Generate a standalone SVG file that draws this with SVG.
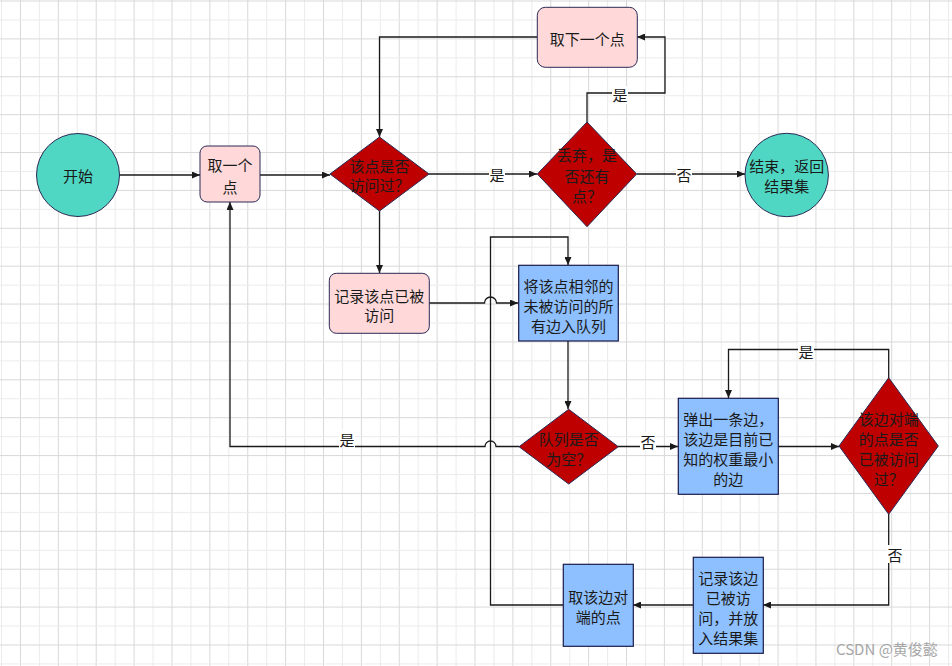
<svg xmlns="http://www.w3.org/2000/svg" width="952" height="666" viewBox="0 0 952 666">
<defs>
<pattern id="grid" patternUnits="userSpaceOnUse" x="1" y="0.5" width="37.88" height="37.88">
<rect x="0" y="0" width="37.88" height="37.88" fill="#ffffff"/>
<rect x="18.94" y="0" width="1" height="37.88" fill="#d9d9d9"/>
<rect x="0" y="0" width="1" height="37.88" fill="#ececec"/>
<rect x="0" y="18.94" width="37.88" height="1" fill="#ececec"/>
<rect x="0" y="0" width="37.88" height="1" fill="#d9d9d9"/>
</pattern>
<marker id="arr" viewBox="0 0 8 7" refX="8" refY="3.5" markerWidth="8" markerHeight="7" markerUnits="userSpaceOnUse" orient="auto">
<path d="M0,0 L8,3.5 L0,7 z" fill="#1a1a1a"/>
</marker>
</defs>
<style>
.t{font-family:"Noto Sans CJK SC","Noto Sans",sans-serif;font-size:15px;fill:#1a1a1a;text-anchor:middle;dominant-baseline:central}
.lbl{font-family:"Noto Sans CJK SC","Noto Sans",sans-serif;font-size:15px;fill:#1a1a1a;text-anchor:middle;dominant-baseline:central}
.c{fill:none;stroke:#1a1a1a;stroke-width:1.3}
.a{marker-end:url(#arr)}
.teal{fill:#4fd7c3;stroke:#2a2a55;stroke-width:1}
.pink{fill:#ffd9d9;stroke:#2a2a55;stroke-width:1}
.red{fill:#bf0000;stroke:#2a2a55;stroke-width:1}
.blue{fill:#8ec0ff;stroke:#1a1a4a;stroke-width:1.2}
.lb{fill:#ffffff}
</style>
<rect width="952" height="666" fill="url(#grid)"/>

<g id="connectors">
<path class="c a" d="M119,175 H200"/>
<path class="c a" d="M260,175 H330"/>
<path class="c a" d="M429,174 H537"/>
<path class="c a" d="M637,174 H745"/>
<path class="c a" d="M587,122 V93 H665 V37 H637"/>
<path class="c a" d="M537,37 H379.5 V137"/>
<path class="c a" d="M379.5,211 V273"/>
<path class="c a" d="M429,303 H484.5 A6,6 0 0 1 496.5,303 H518"/>
<path class="c a" d="M563,605 H490.5 V237 H568 V265"/>
<path class="c a" d="M568,341 V409"/>
<path class="c a" d="M519,446.5 H496 A5.5,5.5 0 0 0 485,446.5 H230 V202"/>
<path class="c a" d="M618,446.5 H678"/>
<path class="c a" d="M778,446.5 H839"/>
<path class="c a" d="M888.7,378 V349.5 H728.5 V398"/>
<path class="c a" d="M888.7,514 V605 H763"/>
<path class="c a" d="M693,605 H633"/>
<rect class="lb" x="489" y="165" width="16" height="18"/>
<text class="lbl" x="497" y="174">是</text>
<rect class="lb" x="676" y="165" width="16" height="18"/>
<text class="lbl" x="684" y="174">否</text>
<rect class="lb" x="612" y="86" width="16" height="18"/>
<text class="lbl" x="620" y="94">是</text>
<rect class="lb" x="339" y="430" width="16" height="18"/>
<text class="lbl" x="347" y="439">是</text>
<rect class="lb" x="640" y="432" width="16" height="18"/>
<text class="lbl" x="648" y="441">否</text>
<rect class="lb" x="798" y="342" width="16" height="18"/>
<text class="lbl" x="806" y="351">是</text>
<rect class="lb" x="887" y="545" width="16" height="18"/>
<text class="lbl" x="895" y="554">否</text>
</g>

<g id="start">
<circle class="teal" cx="78" cy="175" r="41.5"/>
<text class="t" x="78" y="175">开始</text>
</g>
<g id="take-point">
<rect class="pink" x="200" y="146" width="60" height="56" rx="7"/>
<text class="t" x="230" y="164.5">取一个</text>
<text class="t" x="230" y="186">点</text>
</g>
<g id="visited-check">
<polygon class="red" points="379.5,137 429,174 379.5,211 330,174"/>
<text class="t" x="379.5" y="165.5">该点是否</text>
<text class="t" x="379.5" y="184.5">访问过？</text>
</g>
<g id="discard-check">
<polygon class="red" points="587,122 636.7,174 587,226.7 537.3,174"/>
<text class="t" x="587" y="154">丢弃，是</text>
<text class="t" x="587" y="175">否还有</text>
<text class="t" x="587" y="195">点？</text>
</g>
<g id="next-point">
<rect class="pink" x="537.3" y="7.3" width="100" height="60" rx="8"/>
<text class="t" x="587.3" y="38">取下一个点</text>
</g>
<g id="end">
<circle class="teal" cx="786.7" cy="175" r="41.7"/>
<text class="t" x="786.7" y="165.5">结束，返回</text>
<text class="t" x="786.7" y="185">结果集</text>
</g>
<g id="mark-visited">
<rect class="pink" x="329.3" y="273.3" width="100" height="60" rx="7"/>
<text class="t" x="379.3" y="295.5">记录该点已被</text>
<text class="t" x="379.3" y="314.5">访问</text>
</g>
<g id="enqueue">
<rect class="blue" x="518.7" y="265.3" width="99.6" height="75.7"/>
<text class="t" x="568.5" y="285">将该点相邻的</text>
<text class="t" x="568.5" y="305">未被访问的所</text>
<text class="t" x="568.5" y="325">有边入队列</text>
</g>
<g id="queue-empty">
<polygon class="red" points="568.7,409.3 618.3,446.7 568.7,484 519,446.7"/>
<text class="t" x="568.7" y="438.5">队列是否</text>
<text class="t" x="568.7" y="458.5">为空？</text>
</g>
<g id="pop-edge">
<rect class="blue" x="678.3" y="398.3" width="100" height="96"/>
<text class="t" x="728.3" y="418.3">弹出一条边，</text>
<text class="t" x="728.3" y="438.3">该边是目前已</text>
<text class="t" x="728.3" y="458.3">知的权重最小</text>
<text class="t" x="728.3" y="478.3">的边</text>
</g>
<g id="other-end-check">
<polygon class="red" points="888.7,377.7 938.3,446 888.7,514.3 839,446"/>
<text class="t" x="888.7" y="418.5">该边对端</text>
<text class="t" x="888.7" y="438.5">的点是否</text>
<text class="t" x="888.7" y="458.5">已被访问</text>
<text class="t" x="888.7" y="478.5">过？</text>
</g>
<g id="record-edge">
<rect class="blue" x="693.3" y="557.3" width="70" height="96"/>
<text class="t" x="728.3" y="577.5">记录该边</text>
<text class="t" x="728.3" y="597.5">已被访</text>
<text class="t" x="728.3" y="617.5">问，并放</text>
<text class="t" x="728.3" y="637.5">入结果集</text>
</g>
<g id="take-other-end">
<rect class="blue" x="563.3" y="564.3" width="70" height="82"/>
<text class="t" x="598.3" y="596.7">取该边对</text>
<text class="t" x="598.3" y="616.7">端的点</text>
</g>
<text x="836" y="648.5" style="font-family:'Noto Sans CJK SC','Noto Sans',sans-serif;font-size:15px;fill:#a6a6a6;dominant-baseline:central">CSDN @黄俊懿</text>
</svg>
